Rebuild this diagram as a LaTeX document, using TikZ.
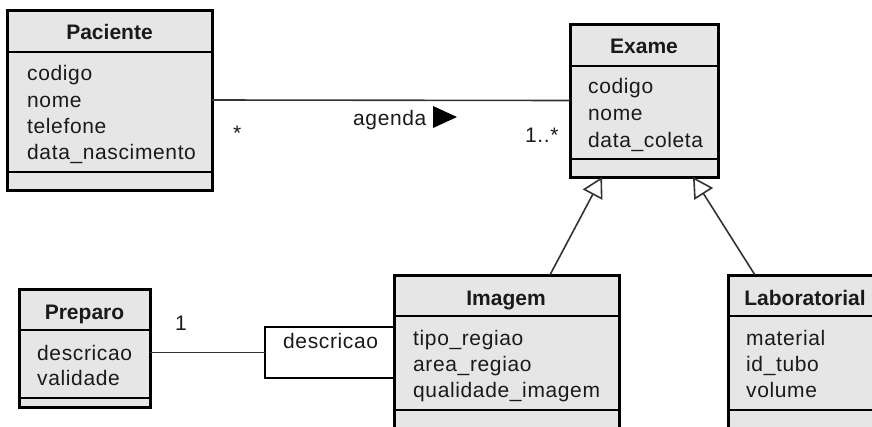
\documentclass[tikz,border=0pt]{standalone}
\usepackage{fontspec}
\setmainfont{Liberation Sans}[LetterSpace=3, BoldFeatures={LetterSpace=0}]
\usetikzlibrary{arrows.meta,calc}
\definecolor{boxfill}{HTML}{E6E6E6}
\definecolor{ink}{HTML}{1A1A1A}
\definecolor{lineclr}{HTML}{333333}
\begin{document}
\begin{tikzpicture}[x=1pt,y=-1pt,
  font=\fontsize{21}{25}\selectfont,
  classbox/.style={draw=black, line width=3pt, fill=boxfill, rectangle, inner sep=0pt, outer sep=0pt, anchor=north west},
  qualbox/.style={draw=black, line width=1.6pt, fill=white, rectangle, inner sep=0pt, outer sep=0pt, anchor=north west},
  sepline/.style={line width=2pt, draw=black},
  attr/.style={anchor=base west, inner sep=0pt, text=ink},
  ctitle/.style={anchor=base, inner sep=0pt, text=ink, font=\fontsize{21}{25}\selectfont\bfseries},
  assoc/.style={line width=1.6pt, draw=lineclr},
  gen/.style={line width=1.6pt, draw=lineclr, -{Triangle[open, length=20pt, width=22pt]}}
]
\useasboundingbox (0,0) rectangle (872,426);
\clip (0,0) rectangle (872,426);

% Paciente
\node[classbox, minimum width=205pt, minimum height=180pt] (pac) at (7,10) {};
\draw[sepline] (7,52) -- (212,52);
\draw[sepline] (7,172) -- (212,172);
\node[ctitle] (pact) at (109.5,39) {Paciente};
\node[attr] (pac1) at (27,80) {codigo};
\node[attr] (pac2) at (27,107) {nome};
\node[attr] (pac3) at (27,133) {telefone};
\node[attr] (pac4) at (27,159) {data\_nascimento};

% Exame
\node[classbox, minimum width=148pt, minimum height=153pt] (exa) at (570,24) {};
\draw[sepline] (570,66) -- (718,66);
\draw[sepline] (570,159) -- (718,159);
\node[ctitle] (exat) at (644,53) {Exame};
\node[attr] (exa1) at (588,93) {codigo};
\node[attr] (exa2) at (588,120) {nome};
\node[attr] (exa3) at (588,147) {data\_coleta};

% Preparo
\node[classbox, minimum width=131pt, minimum height=118pt] (prep) at (19,289) {};
\draw[sepline] (19,330) -- (150,330);
\draw[sepline] (19,398) -- (150,398);
\node[ctitle] (prept) at (84.5,319) {Preparo};
\node[attr] (prep1) at (37,360) {descricao};
\node[attr] (prep2) at (37,385) {validade};

% Qualifier
\node[qualbox, minimum width=129pt, minimum height=51pt] (qual) at (265,327) {};
\node[attr] (qualt) at (283,348) {descricao};

% Imagem
\node[classbox, minimum width=225pt, minimum height=175pt] (img) at (394,275) {};
\draw[sepline] (394,316) -- (619,316);
\draw[sepline] (394,410) -- (619,410);
\node[ctitle] (imgt) at (506,305) {Imagem};
\node[attr] (img1) at (413,345) {tipo\_regiao};
\node[attr] (img2) at (413,371) {area\_regiao};
\node[attr] (img3) at (413,397) {qualidade\_imagem};

% Laboratorial
\node[classbox, minimum width=154pt, minimum height=175pt] (lab) at (728,275) {};
\draw[sepline] (728,316) -- (882,316);
\draw[sepline] (728,410) -- (882,410);
\node[ctitle] (labt) at (805,305) {Laboratorial};
\node[attr] (lab1) at (746,345) {material};
\node[attr] (lab2) at (746,371) {id\_tubo};
\node[attr] (lab3) at (746,397) {volume};

% association Paciente - Exame
\draw[assoc] (pac.east) -- (exa.west);
\node[attr] (m1) at (233,140) {*};
\node[attr] (m2) at (525,142) {1..*};
\node[attr] (agl) at (353,125) {agenda};
\fill[black] (433,106) -- (457,117) -- (433,128) -- cycle;

% Preparo - qualifier
\draw[assoc] (prep.east |- qual.west) -- (qual.west);
\node[attr] (m3) at (175,330) {1};

% generalizations
\draw[gen] ($(img.north west)!0.693!(img.north east)$) -- ($(exa.south west)!0.216!(exa.south east)$);
\draw[gen] ($(lab.north west)!0.175!(lab.north east)$) -- ($(exa.south west)!0.831!(exa.south east)$);
\end{tikzpicture}
\end{document}
